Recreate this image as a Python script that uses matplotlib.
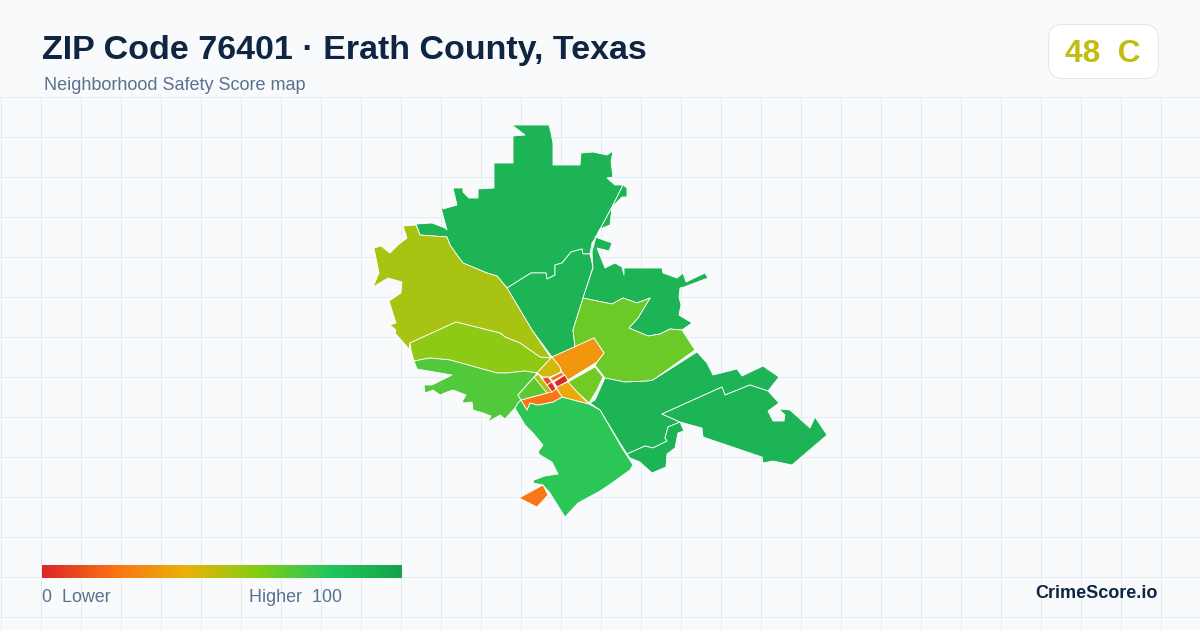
import numpy as np
import matplotlib
matplotlib.use('Agg')
import matplotlib.pyplot as plt
from matplotlib.colors import LinearSegmentedColormap
from matplotlib.patches import FancyBboxPatch

plt.rcParams['font.family'] = ['Liberation Sans', 'DejaVu Sans']

title = 'ZIP Code 76401 · Erath County, Texas'
subtitle = 'Neighborhood Safety Score map'
score_text = '48  C'
brand = 'CrimeScore.io'

# Colour scale used for the scores.
scale_stops = [0.0, 0.2, 0.4, 0.6, 0.8, 1.0]
scale_colors = ['#dc2626', '#f97316', '#eab308', '#84cc16', '#22c55e', '#16a34a']
overall_score = 48

# Neighborhood outlines, with their scores.
north = [(512,125),(549,125),(551,133),(553,143),(553,165),(580,165),(581,153),(593,152),(607,155),
         (613,151),(611,162),(613,177),(607,178),(615,185),(623,185),(612,207),(605,220),(596,237),
         (592,243),(590,254),(583,254),(582,249),(571,252),(562,263),(555,265),(555,275),(547,279),
         (546,273),(531,273),(507,288),(497,276),(487,273),(463,263),(457,255),(450,245),(447,237),
         (420,235),(416,224),(432,223),(445,228),(447,230),(440,204),(443,209),(457,205),(453,188),
         (463,188),(463,192),(469,198),(478,198),(478,189),(494,188),(494,163),(513,163),(513,136),
         (525,135)]
center = [(507,288),(531,273),(546,273),(547,279),(555,275),(555,265),(562,263),(571,252),(582,249),
          (583,254),(590,254),(593,267),(583,298),(573,330),(575,347),(552,357),(532,330)]
northeast = [(596,237),(600,229),(605,227),(610,225),(612,207),(622,197),(627,197),(627,188),(623,185),
             (612,207),(605,220),(596,237),(595,237),(612,243),(609,251),(597,248),(605,268),(615,263),
             (622,267),(624,275),(624,268),(662,268),(663,273),(677,278),(683,273),(686,282),(705,273),
             (708,278),(684,287),(680,288),(679,297),(681,305),(679,315),(692,323),(682,330),(670,329),
             (660,334),(648,336),(629,328),(638,318),(650,298),(637,303),(623,298),(612,304),(597,301),
             (583,298),(593,268),(592,252)]
east = [(583,298),(597,301),(612,304),(623,298),(637,303),(650,298),(638,318),(629,328),(648,336),
        (660,334),(670,329),(682,330),(695,350),(653,380),(648,381),(625,382),(605,378),(595,365),
        (604,353),(594,338),(575,347),(573,330)]
southeast_mid = [(605,378),(625,382),(648,381),(653,380),(697,352),(707,363),(713,375),(737,369),
                 (742,376),(763,366),(779,377),(768,391),(750,385),(725,395),(722,387),(662,414),
                 (680,422),(668,427),(665,438),(667,441),(653,448),(645,446),(627,454),(620,443),
                 (600,410),(590,403),(595,400)]
southeast_far = [(662,414),(722,387),(725,395),(750,385),(768,391),(779,403),(768,411),(773,421),
                 (784,421),(785,415),(779,409),(790,410),(810,428),(815,417),(827,435),(792,465),
                 (773,461),(763,463),(762,457),(703,437),(702,428),(680,422)]
southeast_low = [(627,454),(645,446),(653,448),(667,441),(665,438),(668,427),(680,422),(684,431),
                 (678,433),(675,448),(667,454),(666,467),(652,473),(640,462),(630,458)]
west_olive = [(416,225),(403,226),(407,238),(398,245),(390,253),(381,246),(374,248),(379,273),(373,287),
              (388,278),(402,282),(401,293),(389,301),(396,323),(390,325),(396,330),(395,333),(409,349),
              (410,343),(456,322),(500,333),(505,337),(520,343),(540,357),(551,358),(532,330),(507,288),
              (497,276),(487,273),(463,263),(457,255),(450,245),(447,237),(420,235)]
west_strip = [(410,343),(456,322),(500,333),(505,337),(520,343),(540,357),(551,358),(537,373),(525,371),
              (507,373),(497,373),(450,360),(430,358),(414,361),(411,350)]
southwest = [(414,361),(430,358),(450,360),(497,373),(507,373),(525,371),(537,373),(534,377),(518,395),
             (521,400),(518,403),(515,408),(505,419),(500,415),(488,422),(491,416),(483,413),(473,410),
             (472,402),(465,403),(462,402),(466,395),(453,390),(447,392),(440,395),(433,390),(425,393),
             (424,385),(432,385),(452,375),(417,369)]
south = [(515,408),(518,403),(521,400),(527,410),(530,403),(538,405),(553,402),(562,397),(589,404),
         (600,410),(622,448),(633,465),(630,470),(612,483),(600,491),(578,503),(565,517),(550,493),
         (543,485),(533,483),(534,480),(545,476),(558,474),(552,462),(540,455),(538,452),(543,445),
         (533,433),(525,425)]
south_tip = [(519,498),(543,485),(548,495),(537,507)]
core_top = [(552,357),(537,373),(543,377),(550,377),(561,372),(560,367)]
core_orange = [(552,357),(594,338),(604,353),(597,362),(568,380),(562,372),(560,367)]
core_east = [(595,367),(603,377),(597,390),(589,403),(577,392),(568,382)]
core_amber = [(568,382),(556,387),(562,397),(589,404),(577,392)]
core_south = [(521,400),(527,410),(530,403),(538,405),(553,402),(562,397),(556,388),(547,393)]
core_west = [(534,377),(518,395),(521,400),(547,393),(542,385)]
core_olive = [(534,377),(538,374),(547,385),(552,392),(547,393)]
cell_a = [(542,378),(548,377),(552,382),(547,385)]
cell_b = [(547,385),(552,382),(556,389),(552,392)]
cell_c = [(550,378),(562,372),(564,375),(553,381)]
cell_d = [(554,382),(565,375),(568,381),(557,387)]

zones = [north, center, northeast, east, southeast_mid, southeast_far, southeast_low, west_olive,
         west_strip, southwest, south, south_tip, core_top, core_orange, core_east, core_amber,
         core_south, core_west, core_olive, cell_a, cell_b, cell_c, cell_d]
zone_scores = [90, 90, 90, 65, 90, 90, 90, 53, 58, 70, 78, 21, 45, 31, 64, 37,
               21, 68, 50, 10, 3, 20, 1]

cmap = LinearSegmentedColormap.from_list('safety', list(zip(scale_stops, scale_colors)))

fig = plt.figure(figsize=(12, 6.3), dpi=100, facecolor='#f8fafc')
ax = fig.add_axes([0, 0, 1, 1])
ax.set_xlim(0, 1200)
ax.set_ylim(630, 0)
ax.axis('off')

# Background grid.
for x in range(0, 1200, 40):
    ax.plot([x + 0.5, x + 0.5], [96.5, 630], color='#e3edf1', lw=0.72, zorder=1)
for y in range(96, 630, 40):
    ax.plot([0, 1200], [y + 0.5, y + 0.5], color='#e3edf1', lw=0.72, zorder=1)

# The map.
for zone, score in zip(zones, zone_scores):
    xs, ys = zip(*zone)
    ax.fill(xs, ys, facecolor=cmap(score / 100), edgecolor='white', lw=0.6, joinstyle='round', zorder=3)

# Header.
ax.text(42, 50, title, fontsize=24.5, fontweight='bold', color='#0f2542', va='center', ha='left', zorder=5)
ax.text(44, 86, subtitle, fontsize=13, color='#5a7190', va='center', ha='left', zorder=5)

# Score card.
card = FancyBboxPatch((1048.5, 24.5), 110, 54, boxstyle='round,pad=0,rounding_size=14',
                      facecolor='white', edgecolor='#e2e8f0', lw=0.75, zorder=4)
ax.add_patch(card)
ax.text(1103, 54, score_text, fontsize=22.8, fontweight='bold', color=cmap(overall_score / 100),
        va='center', ha='center', zorder=5)

# Legend bar.
gradient = np.linspace(0, 1, 360).reshape(1, -1)
ax.imshow(gradient, cmap=cmap, extent=(42, 402, 578, 565), aspect='auto', zorder=4)
ax.set_xlim(0, 1200)
ax.set_ylim(630, 0)
ax.text(42, 598, '0  Lower', fontsize=12.9, color='#5a7190', va='center', ha='left', zorder=5)
ax.text(342, 598, 'Higher  100', fontsize=12.9, color='#5a7190', va='center', ha='right', zorder=5)

ax.text(1158, 594, brand, fontsize=13, fontweight='bold', color='#0f2542', va='center', ha='right', zorder=5)

fig.savefig('out.png', dpi=100, facecolor=fig.get_facecolor())
